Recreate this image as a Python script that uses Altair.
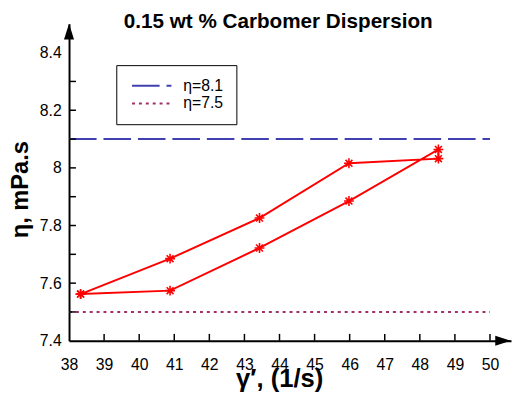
import altair as alt
import pandas as pd

# ---- data ----
shear_rate = [38.33, 40.88, 43.43, 45.98, 48.53, 48.53, 45.98, 43.43, 40.88, 38.33]
viscosity = [7.562, 7.574, 7.722, 7.885, 8.064, 8.032, 8.016, 7.826, 7.685, 7.562]
ref_labels = ["η=8.1", "η=7.5"]
ref_values = [8.1, 7.5]
ref_start = [38, 38]
ref_end = [50, 50]
x_tick_values = [38, 39, 40, 41, 42, 43, 44, 45, 46, 47, 48, 49, 50]
y_tick_values = [7.4, 7.5, 7.6, 7.7, 7.8, 7.9, 8.0, 8.1, 8.2, 8.3, 8.4]
x_inner_ticks = [39, 40, 41, 42, 43, 44, 45, 46, 47, 48, 49, 50]
y_inner_ticks = [7.5, 7.6, 7.7, 7.8, 7.9, 8.0, 8.1, 8.2, 8.3]

FONT = "Liberation Sans"

df = pd.DataFrame({"x": shear_rate, "y": viscosity, "order": list(range(len(shear_rate)))})
df_ref = pd.DataFrame({"label": ref_labels, "value": ref_values, "start": ref_start, "end": ref_end})
df_one = pd.DataFrame({"a": [0]})

xs = alt.Scale(domain=[38, 50.6], nice=False, zero=False)
ys = alt.Scale(domain=[7.4, 8.5], nice=False, zero=False)

x_axis = alt.Axis(
    values=x_tick_values, ticks=False, tickSize=0, grid=False, labelFlush=False,
    labelOverlap=False, labelPadding=16, labelFont=FONT, labelFontSize=16, labelColor="black",
    domainColor="black", domainWidth=2,
    title="γ′, (1/s)", titleFont=FONT, titleFontSize=26, titleFontWeight="bold", titleColor="black",
    titleX=213.5, titleY=46, titleAlign="center", titleBaseline="alphabetic", titleAnchor="start",
)
y_axis = alt.Axis(
    values=y_tick_values, ticks=False, tickSize=0, grid=False, labelFlush=False,
    labelOverlap=False, labelPadding=8, labelFont=FONT, labelFontSize=16, labelColor="black",
    labelExpr="round(datum.value*10) % 2 == 0 ? '' + datum.value : ''",
    domainColor="black", domainWidth=2,
    title="η, mPa.s", titleFont=FONT, titleFontSize=24, titleFontWeight="bold", titleColor="black",
    titleAngle=270, titleX=-42, titleY=168, titleAlign="center", titleBaseline="alphabetic",
    titleAnchor="start",
)

legend = alt.Legend(
    orient="none", legendX=48, legendY=42, title=None, strokeColor="black", padding=13,
    labelFont=FONT, labelFontSize=16, labelColor="black", labelOffset=39,
    symbolType="M-1,0L7,0", symbolSize=100, symbolStrokeWidth=2, rowPadding=2, fillColor="white",
)

ref = alt.Chart(df_ref).mark_rule(strokeWidth=2).encode(
    x=alt.X("start:Q", scale=xs, axis=x_axis),
    x2="end:Q",
    y=alt.Y("value:Q", scale=ys, axis=y_axis),
    color=alt.Color("label:N", scale=alt.Scale(domain=ref_labels, range=["#4040b0", "#a0306a"]), legend=legend),
    strokeDash=alt.StrokeDash("label:N", scale=alt.Scale(domain=ref_labels, range=[[28, 7], [3, 4]]), legend=legend),
)

line = alt.Chart(df).mark_line(color="#ff0000", strokeWidth=2).encode(
    x=alt.X("x:Q", scale=xs, axis=x_axis),
    y=alt.Y("y:Q", scale=ys, axis=y_axis),
    order="order:Q",
)

asterisk = "M-1,0L1,0M0,-1L0,1M-0.7,-0.7L0.7,0.7M-0.7,0.7L0.7,-0.7"
pts = alt.Chart(df).mark_point(shape=asterisk, size=100, color="#ff0000", strokeWidth=1.6,
                               filled=False, opacity=1).encode(
    x=alt.X("x:Q", scale=xs, axis=x_axis),
    y=alt.Y("y:Q", scale=ys, axis=y_axis),
)


def symbol_at(xv, yv, shape, size, filled, color="black", sw=1.5):
    return alt.Chart(df_one).mark_point(shape=shape, size=size, filled=filled, color=color,
                                        strokeWidth=sw, opacity=1).encode(
        x=alt.X(datum=xv, type="quantitative", scale=xs, axis=x_axis),
        y=alt.Y(datum=yv, type="quantitative", scale=ys, axis=y_axis),
    )


# inward tick marks, 7px long
x_tick_layers = [symbol_at(v, 7.4, "M0,0L0,-1", 196, False) for v in x_inner_ticks]
y_tick_layers = [symbol_at(38, v, "M0,0L1,0", 196, False) for v in y_inner_ticks]

# axis arrow heads
yarrow = symbol_at(38, 8.5, "M0,0L0.32,1L-0.32,1Z", 1024, True)
xarrow = symbol_at(50.6, 7.4, "M0,0L-1,-0.32L-1,0.32Z", 1024, True)

chart = alt.layer(ref, line, pts, *x_tick_layers, *y_tick_layers, yarrow, xarrow).properties(
    width=449, height=322,
    title=alt.TitleParams("0.15 wt % Carbomer Dispersion", font=FONT, fontSize=21, fontWeight="bold",
                          color="black", anchor="middle", dx=-12, dy=19, offset=-6, baseline="alphabetic"),
    autosize=alt.AutoSizeParams(type="none"),
    padding={"left": 62, "top": 13, "right": 2, "bottom": 50},
    background="white",
).configure_view(stroke=None)

chart.save("out.html", embed_options={"renderer": "svg", "actions": False})
